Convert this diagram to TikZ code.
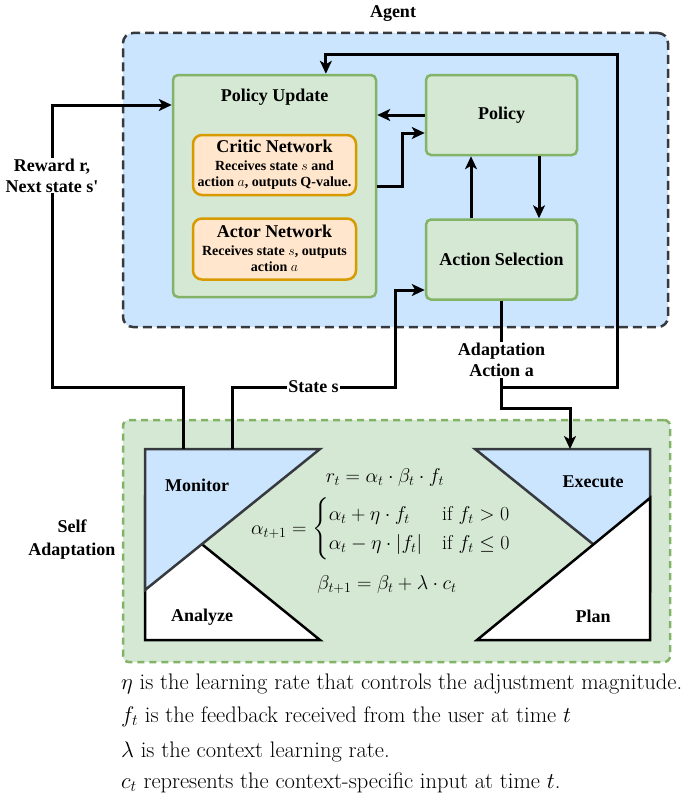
\RequirePackage{fix-cm}
\documentclass[tikz,border=0pt]{standalone}
\usepackage{amsmath}
\usepackage{fontspec}
\newfontfamily\lblfont{Liberation Serif}
\usetikzlibrary{arrows.meta,positioning,calc}
\definecolor{agentF}{RGB}{204,229,255}
\definecolor{agentD}{RGB}{54,57,61}
\definecolor{grnF}{RGB}{213,232,212}
\definecolor{grnD}{RGB}{130,179,102}
\definecolor{orgF}{RGB}{255,230,204}
\definecolor{orgD}{RGB}{215,155,0}
\tikzset{
  lbl/.style={font=\lblfont\bfseries\fontsize{18}{21}\selectfont, align=center, inner sep=1pt},
  sub/.style={font=\lblfont\bfseries\fontsize{14}{16}\selectfont, align=center, inner sep=0pt},
  blk/.style={draw=grnD, fill=grnF, line width=2.5pt, rounded corners=5pt, lbl},
  net/.style={draw=orgD, fill=orgF, line width=2.5pt, rounded corners=9pt},
  frame/.style={line width=2.5pt, rounded corners=10pt},
  mon/.style={draw=agentD, fill=agentF, line width=2.5pt},
  ana/.style={draw=black, fill=white, line width=2.5pt},
  arr/.style={-{Stealth[length=13pt,width=12pt,inset=3.5pt]}, line width=3pt},
  tag/.style={lbl, fill=white},
  eq/.style={font=\fontsize{20}{24}\selectfont, inner sep=0pt},
  note/.style={font=\fontsize{22.5}{27}\selectfont, anchor=base west, inner sep=0pt},
}
\begin{document}
\begin{tikzpicture}[x=1pt,y=-1pt]
\useasboundingbox (0,0) rectangle (686,800);
% agent
\node[frame, draw=agentD, fill=agentF, dash pattern=on 9pt off 5pt, minimum width=545pt, minimum height=294pt] (agent) at (395.5,180) {};
\node[lbl] (agentlbl) at (393,14) {Agent};
\node[blk, minimum width=203pt, minimum height=222pt] (pu) at (274.5,186) {};
\node[lbl] (putitle) at ($(pu.north)+(0,23)$) {Policy Update};
\node[net, minimum width=163pt, minimum height=60pt] (cr) at (274.5,165) {};
\node[lbl] (crtitle) at ($(cr.north)+(0,13)$) {Critic Network};
\node[sub] (crtext) at ($(cr.north)+(0,41)$) {Receives state $s$ and\\action $a$, outputs Q-value.};
\node[net, minimum width=163pt, minimum height=61pt, below=21pt of cr] (ac) {};
\node[lbl] (actitle) at ($(ac.north)+(0,14)$) {Actor Network};
\node[sub] (actext) at ($(ac.north)+(0,41)$) {Receives state $s$, outputs\\action $a$};
\node[blk, minimum width=151pt, minimum height=80pt] (pol) at (501.5,115) {Policy};
\node[blk, minimum width=151pt, minimum height=80pt, below=62pt of pol] (as) {Action Selection};
% self adaptation
\node[frame, draw=grnD, fill=grnF, dash pattern=on 7pt off 5pt, rounded corners=6pt, minimum width=547pt, minimum height=242pt] (sa) at (396.5,541) {};
\node[lbl] (salbl) at (72,540) {Self\\[2pt]Adaptation};
\draw[ana] (145,640) -- (320,640) -- (145,498) -- cycle;
\draw[mon] (145,449) -- (320,449) -- (145,590) -- cycle;
\draw[mon] (475,449) -- (650,449) -- (650,590) -- cycle;
\draw[ana] (650,640) -- (477,640) -- (650,498) -- cycle;
\node[lbl] (monlbl) at (197,485) {Monitor};
\node[lbl] (analbl) at (202,617) {Analyze};
\node[lbl] (exelbl) at (593,482) {Execute};
\node[lbl] (planlbl) at (593,616) {Plan};
\coordinate (monR) at (183,449);
\coordinate (monS) at (232,449);
\coordinate (exeIn) at (570,449);
% update rules
\node[eq] (eqr) at (385,477) {$r_t = \alpha_t \cdot \beta_t \cdot f_t$};
\node[eq] (eqa) at (381,529) {$\alpha_{t+1} = \begin{cases} \alpha_t + \eta \cdot f_t & \text{if } f_t > 0\\ \alpha_t - \eta \cdot |f_t| & \text{if } f_t \le 0\end{cases}$};
\node[eq] (eqb) at (387,585) {$\beta_{t+1} = \beta_t + \lambda \cdot c_t$};
% notes
\node[note] (n1) at (121,689) {$\eta$ is the learning rate that controls the adjustment magnitude.};
\node[note] (n2) at (121,722) {$f_t$ is the feedback received from the user at time $t$};
\node[note] (n3) at (121,757) {$\lambda$ is the context learning rate.};
\node[note] (n4) at (121,788) {$c_t$ represents the context-specific input at time $t$.};
% agent links
\draw[arr] (pol.west) -- (pol.west -| pu.east);
\draw[arr] (pu.east) -- ++(25,0) |- ($(pol.west)+(0,18)$);
\draw[arr] ($(as.north)+(-30.5,0)$) -- ($(pol.south)+(-30.5,0)$);
\draw[arr] ($(pol.south)+(37.5,0)$) -- ($(as.north)+(37.5,0)$);
% loop
\coordinate (rwc) at (52,387);
\coordinate (rwTop) at (52,105);
\coordinate (stc) at (395,387);
\coordinate (adc) at (570,408);
\coordinate (fbk) at (617,55);
\draw[arr] (monR) |- (rwc) -- node[tag, pos=0.75]{Reward r,\\Next state s\textquotesingle} (rwTop) -- (rwTop -| pu.west);
\draw[arr] (monS) |- node[tag, pos=0.75]{State s} (stc) |- ($(as.west)+(0,30.5)$);
\draw[arr] (as.south) -- node[tag, pos=0.55]{Adaptation\\Action a} (as.south |- adc) -| (exeIn);
\draw[arr] (as.south |- stc) -| (fbk) -| ($(pu.north west)!0.75!(pu.north east)$);
\end{tikzpicture}
\end{document}
